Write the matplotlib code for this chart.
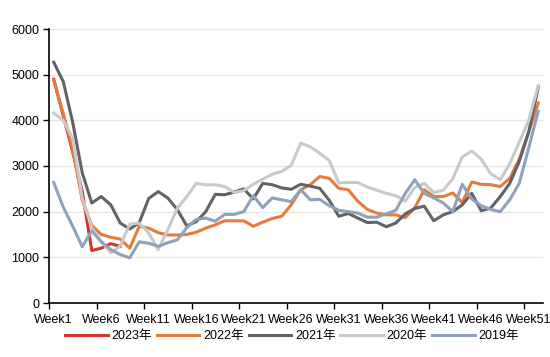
import matplotlib
matplotlib.use("Agg")
import matplotlib.pyplot as plt
import numpy as np

plt.rcParams['font.family'] = ['Liberation Sans', 'Noto Sans CJK SC', 'DejaVu Sans']

weeks = np.arange(1, 53)
week_labels = [f"Week{w}" for w in range(1, 52, 5)]

s2023 = [4900, 4100, 3300, 2450, 1150, 1200, 1300, 1240]
s2022 = [4880, 4150, 3350, 2250, 1700, 1500, 1440, 1400, 1200, 1680,
         1640, 1540, 1490, 1490, 1500, 1550, 1640, 1710, 1800, 1800,
         1800, 1680, 1770, 1850, 1900, 2150, 2480, 2590, 2770, 2730,
         2510, 2480, 2230, 2050, 1970, 1930, 1930, 1870, 2080, 2480,
         2330, 2330, 2410, 2200, 2650, 2600, 2590, 2550, 2730, 3150,
         3750, 4380]
s2021 = [5270, 4850, 3950, 2850, 2190, 2330, 2150, 1750, 1620, 1760,
         2290, 2440, 2300, 2050, 1690, 1780, 2000, 2380, 2370, 2430,
         2500, 2280, 2620, 2590, 2520, 2490, 2600, 2560, 2510, 2250,
         1900, 1960, 1860, 1760, 1770, 1670, 1750, 1950, 2070, 2120,
         1800, 1930, 2000, 2150, 2400, 2020, 2080, 2330, 2620, 3100,
         3750, 4720]
s2020 = [4160, 4000, 3600, 2300, 1650, 1350, 1100, 1250, 1730, 1750,
         1530, 1170, 1600, 2070, 2330, 2620, 2590, 2590, 2550, 2420,
         2460, 2600, 2710, 2820, 2880, 3020, 3500, 3420, 3280, 3120,
         2630, 2640, 2640, 2540, 2470, 2400, 2350, 2230, 2530, 2620,
         2420, 2470, 2720, 3200, 3330, 3150, 2830, 2700, 3050, 3520,
         4000, 4760]
s2019 = [2640, 2100, 1680, 1230, 1580, 1340, 1170, 1060, 990, 1340,
         1310, 1240, 1320, 1380, 1650, 1830, 1860, 1790, 1940, 1940,
         2000, 2350, 2090, 2300, 2260, 2220, 2480, 2260, 2270, 2130,
         2030, 2000, 1970, 1880, 1880, 1950, 2030, 2400, 2700, 2400,
         2300, 2190, 2000, 2600, 2280, 2130, 2050, 2000, 2260, 2620,
         3400, 4200]

series = [
    ("2023年", s2023, "#d0352d"),
    ("2022年", s2022, "#e57c3a"),
    ("2021年", s2021, "#616369"),
    ("2020年", s2020, "#c9c9c9"),
    ("2019年", s2019, "#8fa2b9"),
]

fig = plt.figure(figsize=(5.5, 3.57), dpi=100)
ax = fig.add_axes([49 / 550, 1 - 303 / 357, 494 / 550, 274 / 357])

for name, vals, color in series:
    ax.plot(weeks[:len(vals)], vals, color=color, lw=2.2, label=name,
            solid_joinstyle="round")

ax.set_xlim(0.5, 52.5)
ax.set_ylim(0, 6000)
ax.set_yticks(range(0, 6001, 1000))
ax.grid(axis="y", color="#e9e7e0", lw=1)
ax.set_axisbelow(True)

# ticks sit between categories, labels at category centres
ax.set_xticks(np.arange(0.5, 51, 5))
ax.set_xticklabels([])
ax.set_xticks(np.arange(1, 52, 5), week_labels, minor=True)
ax.tick_params(axis="x", which="major", length=4, width=1, direction="out")
ax.tick_params(axis="x", which="minor", length=0, pad=8, labelsize=9)
ax.tick_params(axis="y", length=4, width=1, pad=3, labelsize=9)

for side in ["top", "right"]:
    ax.spines[side].set_visible(False)
for side in ["left", "bottom"]:
    ax.spines[side].set_color("black")
    ax.spines[side].set_linewidth(1.2)

fig.legend(loc="center", bbox_to_anchor=(292 / 550, 1 - 336 / 357), ncol=5,
           frameon=False, fontsize=9, handlelength=3.4, handletextpad=0.3,
           columnspacing=0.4, borderaxespad=0)

fig.savefig("out.png", dpi=100)
